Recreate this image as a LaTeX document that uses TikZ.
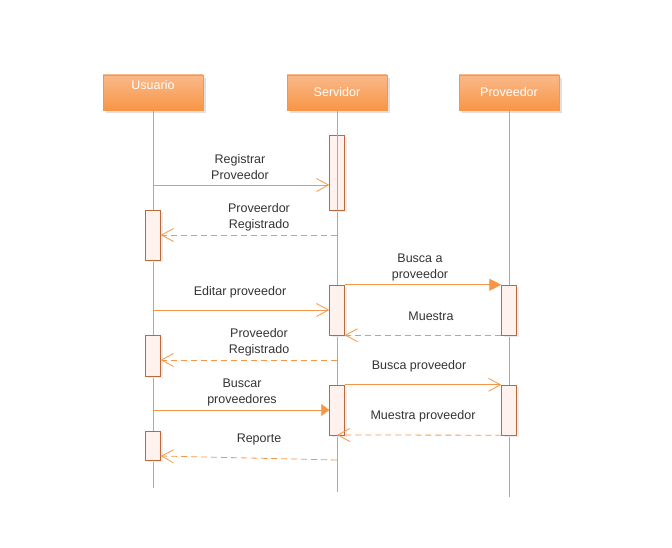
\documentclass[tikz,border=0pt]{standalone}
\usepackage{fontspec}
\setmainfont{Liberation Sans}
\usetikzlibrary{arrows.meta,shadows}
\definecolor{naranja}{HTML}{F79646}
\definecolor{naranjaclaro}{HTML}{FAB98A}
\definecolor{borde}{HTML}{B86A3A}
\definecolor{relleno}{HTML}{FFF2EE}
\definecolor{texto}{HTML}{333333}
\tikzset{
  cab/.style={draw=naranja, top color=naranjaclaro, bottom color=naranja, text=white,
    minimum width=100pt, minimum height=35pt, inner sep=0pt,
    drop shadow={shadow xshift=3pt, shadow yshift=-3pt, fill=black!12, opacity=1}},
  act/.style={draw=borde, fill=relleno, minimum width=15pt, inner sep=0pt,
    drop shadow={shadow xshift=2pt, shadow yshift=-2pt, fill=black!8, opacity=1}},
  vida/.style={naranja, line width=0.8pt},
  llamada/.style={naranja, line width=0.8pt, -{Straight Barb[length=12pt,width=13pt]}},
  llena/.style={naranja, line width=0.8pt, -{Triangle[length=12pt,width=12pt]}},
  respuesta/.style={naranja, line width=0.8pt, dash pattern=on 6pt off 4pt,
    -{Straight Barb[length=12pt,width=13pt]}},
  etiq/.style={text=texto, align=center, inner sep=0pt}
}
\begin{document}
\begin{tikzpicture}[x=1pt,y=-1pt,font=\fontsize{12.5}{16}\selectfont]
        \useasboundingbox (0,0) rectangle (672,548);
        \node[cab, text depth=16pt] (usr) at (153,92.5) {Usuario};
        \node[cab] (srv) at (337,92.5) {Servidor};
        \node[cab] (prv) at (509,92.5) {Proveedor};
        \coordinate (usrfin) at (153,488);
        \coordinate (srvfin) at (337,492);
        \coordinate (prvfin) at (509,497);
        \draw[vida] (usr) -- (usrfin);
        \draw[vida] (srv) -- (srvfin);
        \draw[vida] (prv) -- (prvfin);

        \node[act, minimum height=75pt] (s1) at (337,172.5) {};
        \draw[vida] (s1.north) -- (s1.south);
        \node[act, minimum height=50pt] (u1) at (153,235) {};
        \node[act, minimum height=50pt] (s2) at (337,310) {};
        \node[act, minimum height=50pt] (p1) at (509,310) {};
        \node[act, minimum height=41pt] (u2) at (153,355.5) {};
        \node[act, minimum height=50pt] (s3) at (337,410) {};
        \node[act, minimum height=50pt] (p2) at (509,410) {};
        \node[act, minimum height=29pt] (u3) at (153,445.5) {};

        \draw[llamada] (usr |- 0,185) -- (s1.west |- 0,185);
        \node[etiq] (l1) at (240,167) {Registrar\\Proveedor};
        \draw[respuesta] (srv |- 0,235) -- (u1.east |- 0,235);
        \node[etiq] (l2) at (259,217) {Proveerdor\\Registrado};
        \draw[llena] (s2.north east) -- (p1.north west);
        \node[etiq] (l3) at (420,267) {Busca a\\proveedor};
        \draw[llamada] (usr |- 0,310) -- (s2.west);
        \node[etiq] (l4) at (240,292) {Editar proveedor};
        \draw[respuesta] (p1.south west) -- (s2.south east);
        \node[etiq] (l5) at (431,316) {Muestra};
        \draw[respuesta] (srv |- 0,360) -- (u2.east |- 0,360);
        \node[etiq] (l6) at (259,342) {Proveedor\\Registrado};
        \draw[llamada] (s3.north east) -- (p2.north west);
        \node[etiq] (l7) at (419,366) {Busca proveedor};
        \draw[naranja, line width=0.8pt, -{Triangle[length=8pt,width=12pt]}] (usr |- 0,410) -- (s3.west);
        \node[etiq] (l8) at (242,392) {Buscar\\proveedores};
        \draw[respuesta] (p2.south west) -- (srv |- 0,435);
        \node[etiq] (l9) at (423,416) {Muestra proveedor};
        \draw[respuesta] (srvfin |- 0,460) -- (u3.east |- 0,456);
        \node[etiq] (l10) at (259,439) {Reporte};
\end{tikzpicture}
\end{document}
